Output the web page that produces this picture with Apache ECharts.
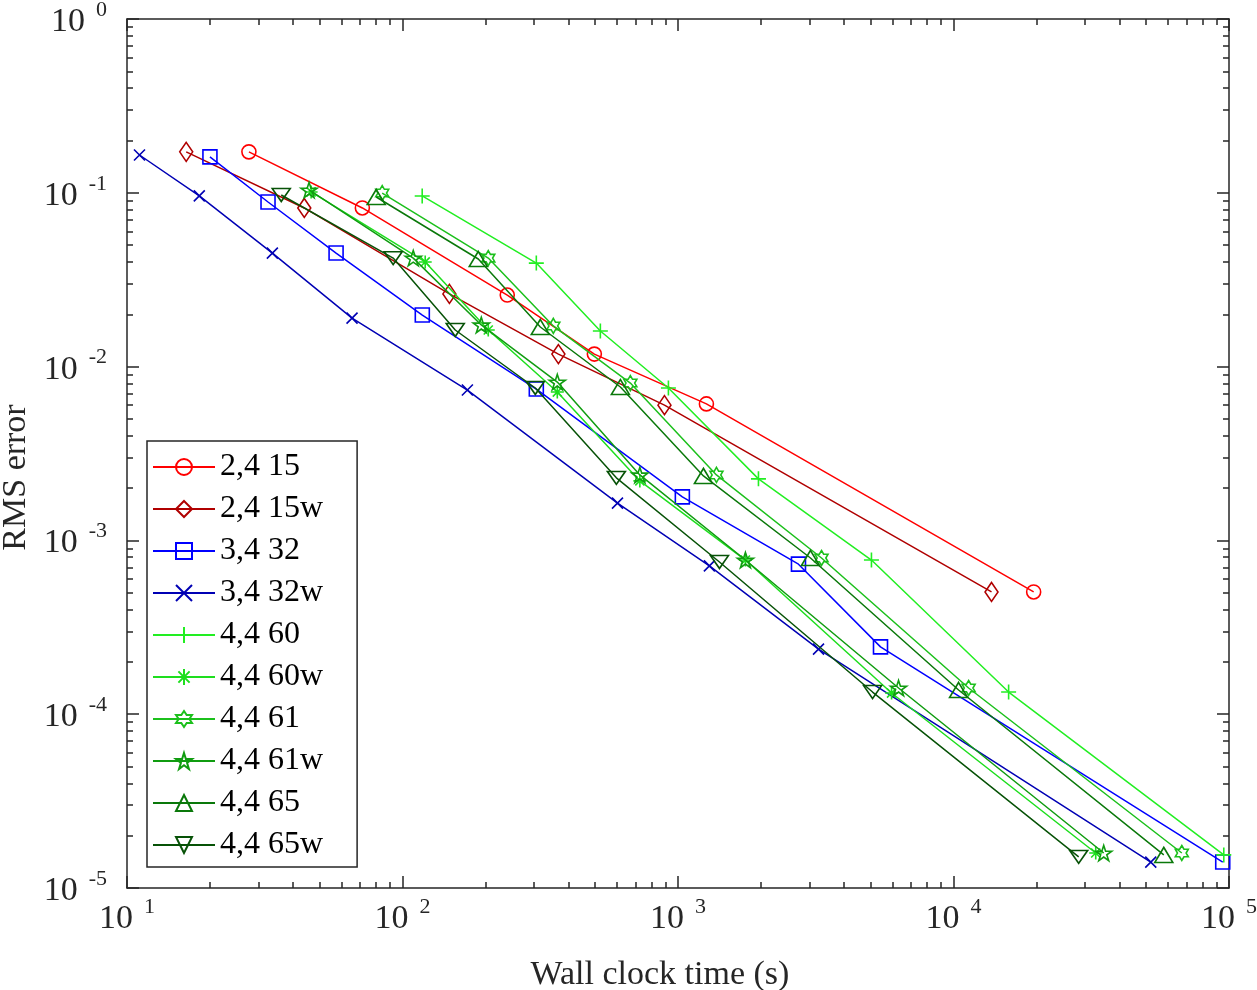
<!DOCTYPE html>
<html>
<head>
<meta charset="utf-8">
<script src="https://cdn.jsdelivr.net/npm/echarts@6/dist/echarts.min.js"></script>
<style>
  html, body { margin: 0; padding: 0; background: #fff; }
  #chart { width: 1257px; height: 990px; }
</style>
</head>
<body>
<div id="chart"></div>
<script>
// data: [wall clock time (s), RMS error]
const s24_15  = [[27.7,0.172],[71.5,0.0818],[240,0.0258],[497,0.0118],[1268,0.0061],[19540,5.05e-4]];
const s24_15w = [[16.4,0.172],[44,0.0818],[148,0.0262],[368,0.0118],[893,0.0060],[13740,5.05e-4]];
const s34_32  = [[20,0.161],[32.5,0.0885],[57.4,0.045],[118,0.0198],[306,0.00743],[1037,0.00178],[2737,7.3e-4],[5433,2.44e-4],[94900,1.41e-5]];
const s34_32w = [[11.1,0.165],[18.3,0.096],[33.7,0.045],[65.6,0.019],[172,0.00733],[603,0.00164],[1300,7.13e-4],[3236,2.37e-4],[52000,1.41e-5]];
const s44_60  = [[117.9,0.0959],[306,0.0394],[522.6,0.01602],[923,0.00753],[1959,0.00226],[5037,7.71e-4],[15852,1.341e-4],[95740,1.55e-5]];
const s44_60w = [[46.6,0.1011],[120.9,0.0400],[204.8,0.01624],[364.7,0.00714],[727,0.00220],[1757,7.71e-4],[5959,1.324e-4],[32830,1.59e-5]];
const s44_61  = [[84.4,0.0997],[204.8,0.0421],[352.7,0.01713],[671.5,0.00804],[1379,0.00238],[3318,7.92e-4],[11346,1.415e-4],[67400,1.59e-5]];
const s44_61w = [[45.8,0.1038],[109.4,0.0421],[193.2,0.01736],[364.7,0.00815],[727,0.00238],[1757,7.71e-4],[6318,1.415e-4],[35100,1.59e-5]];
const s44_65  = [[80.3,0.0946],[188.4,0.0416],[316.4,0.0169],[617.8,0.00763],[1237,0.00235],[3026,7.92e-4],[10435,1.378e-4],[57980,1.55e-5]];
const s44_65w = [[36.3,0.0971],[92.5,0.0421],[155.4,0.01624],[303.4,0.00753],[597.4,0.00229],[1414,7.51e-4],[5084,1.341e-4],[28470,1.51e-5]];

const names = ['2,4 15','2,4 15w','3,4 32','3,4 32w','4,4 60','4,4 60w','4,4 61','4,4 61w','4,4 65','4,4 65w'];
const allData = [s24_15, s24_15w, s34_32, s34_32w, s44_60, s44_60w, s44_61, s44_61w, s44_65, s44_65w];
const colors = ['#ff0000','#b00000','#0000ff','#0000b4','#22ee22','#1ede1e','#1cc01c','#109c10','#0a780a','#075207'];

const xMajor = [10, 100, 1000, 10000, 100000];
const yMajor = [1e-5, 1e-4, 1e-3, 1e-2, 1e-1, 1];

function minorOf(decades) {
  const out = [];
  for (let i = 0; i < decades.length - 1; i++) {
    for (let k = 2; k <= 9; k++) out.push(+(decades[i] * k).toPrecision(6));
  }
  return out;
}
const xMinor = minorOf(xMajor);
const yMinor = minorOf(yMajor);

const P = {
  cross: 'path://M0,0 L10,10 M10,0 L0,10',
  plus: 'path://M5,0 L5,10 M0,5 L10,5',
  aster: 'path://M5,0 L5,10 M0,5 L10,5 M1.5,1.5 L8.5,8.5 M8.5,1.5 L1.5,8.5',
  hexa: 'path://M50,0 L64.43,25 L93.3,25 L78.87,50 L93.3,75 L64.43,75 L50,100 L35.57,75 L6.7,75 L21.13,50 L6.7,25 L35.57,25 Z',
  penta: 'path://M50,0 L61.23,34.55 L97.55,34.55 L68.17,55.9 L79.39,90.45 L50,69.1 L20.61,90.45 L31.83,55.9 L2.45,34.55 L38.77,34.55 Z',
  down: 'path://M0,0 L100,0 L50,86 Z'
};
const symbols = ['circle', 'diamond', 'rect', P.cross, P.plus, P.aster, P.hexa, P.penta, 'triangle', P.down];
const sizes = [14, [13, 19], 14, 11, 15, 13, 15, 16, [18, 15], [18, 15]];

const axisColor = '#262626';
const font = 'Liberation Serif';

function powLabel(v) {
  const e = Math.round(Math.log10(v));
  return '{b|10}{e|  ' + e + '}';
}
const labelRich = {
  b: { fontFamily: font, fontSize: 34, color: axisColor, lineHeight: 40, verticalAlign: 'bottom' },
  e: { fontFamily: font, fontSize: 22, color: axisColor, lineHeight: 22, verticalAlign: 'top' }
};

function xAx(pos, major, show) {
  return {
    type: 'log', min: 10, max: 100000, position: pos,
    axisLine: { show: major, lineStyle: { color: axisColor, width: 1.5 } },
    axisTick: { show: true, inside: true, length: major ? 12 : 6, customValues: major ? xMajor : xMinor,
                lineStyle: { color: axisColor, width: 1.5 } },
    axisLabel: show ? { show: true, customValues: xMajor, formatter: powLabel, rich: labelRich, margin: 8 } : { show: false },
    splitLine: { show: false },
    name: show ? 'Wall clock time (s)' : '',
    nameLocation: 'middle', nameGap: 70,
    nameTextStyle: { fontFamily: font, fontSize: 34, color: axisColor, padding: [0, 36, 0, 0] }
  };
}
function yAx(pos, major, show) {
  return {
    type: 'log', min: 1e-5, max: 1, position: pos,
    axisLine: { show: major, lineStyle: { color: axisColor, width: 1.5 } },
    axisTick: { show: true, inside: true, length: major ? 12 : 6, customValues: major ? yMajor : yMinor,
                lineStyle: { color: axisColor, width: 1.5 } },
    axisLabel: show ? { show: true, customValues: yMajor, formatter: powLabel, rich: labelRich, margin: 20 } : { show: false },
    splitLine: { show: false },
    name: show ? 'RMS error' : '',
    nameLocation: 'middle', nameGap: 94,
    nameTextStyle: { fontFamily: font, fontSize: 34, color: axisColor, padding: [0, 48, 0, 0] }
  };
}

const chart = echarts.init(document.getElementById('chart'));
chart.setOption({
  backgroundColor: '#fff',
  animation: false,
  grid: { left: 127, right: 28, top: 19, bottom: 102, containLabel: false, outerBoundsMode: 'none' },
  xAxis: [xAx('bottom', true, true), xAx('bottom', false, false), xAx('top', true, false), xAx('top', false, false)],
  yAxis: [yAx('left', true, true), yAx('left', false, false), yAx('right', true, false), yAx('right', false, false)],
  legend: {
    orient: 'vertical', left: 147, top: 441,
    itemWidth: 62, itemHeight: 20, itemGap: 8,
    padding: [9, 34, 5, 5],
    borderColor: axisColor, borderWidth: 1.5, backgroundColor: '#fff',
    textStyle: { fontFamily: font, fontSize: 32, lineHeight: 34, color: '#000' },
    data: names
  },
  series: allData.map((d, i) => ({
    name: names[i],
    type: 'line',
    data: d,
    symbol: symbols[i],
    symbolSize: sizes[i],
    symbolKeepAspect: true,
    showAllSymbol: true,
    lineStyle: { color: colors[i], width: 1.5 },
    itemStyle: { color: 'rgba(0,0,0,0)', borderColor: colors[i], borderWidth: 1.6 },
    emphasis: { disabled: true },
    z: 2 + i
  }))
});
</script>
</body>
</html>
